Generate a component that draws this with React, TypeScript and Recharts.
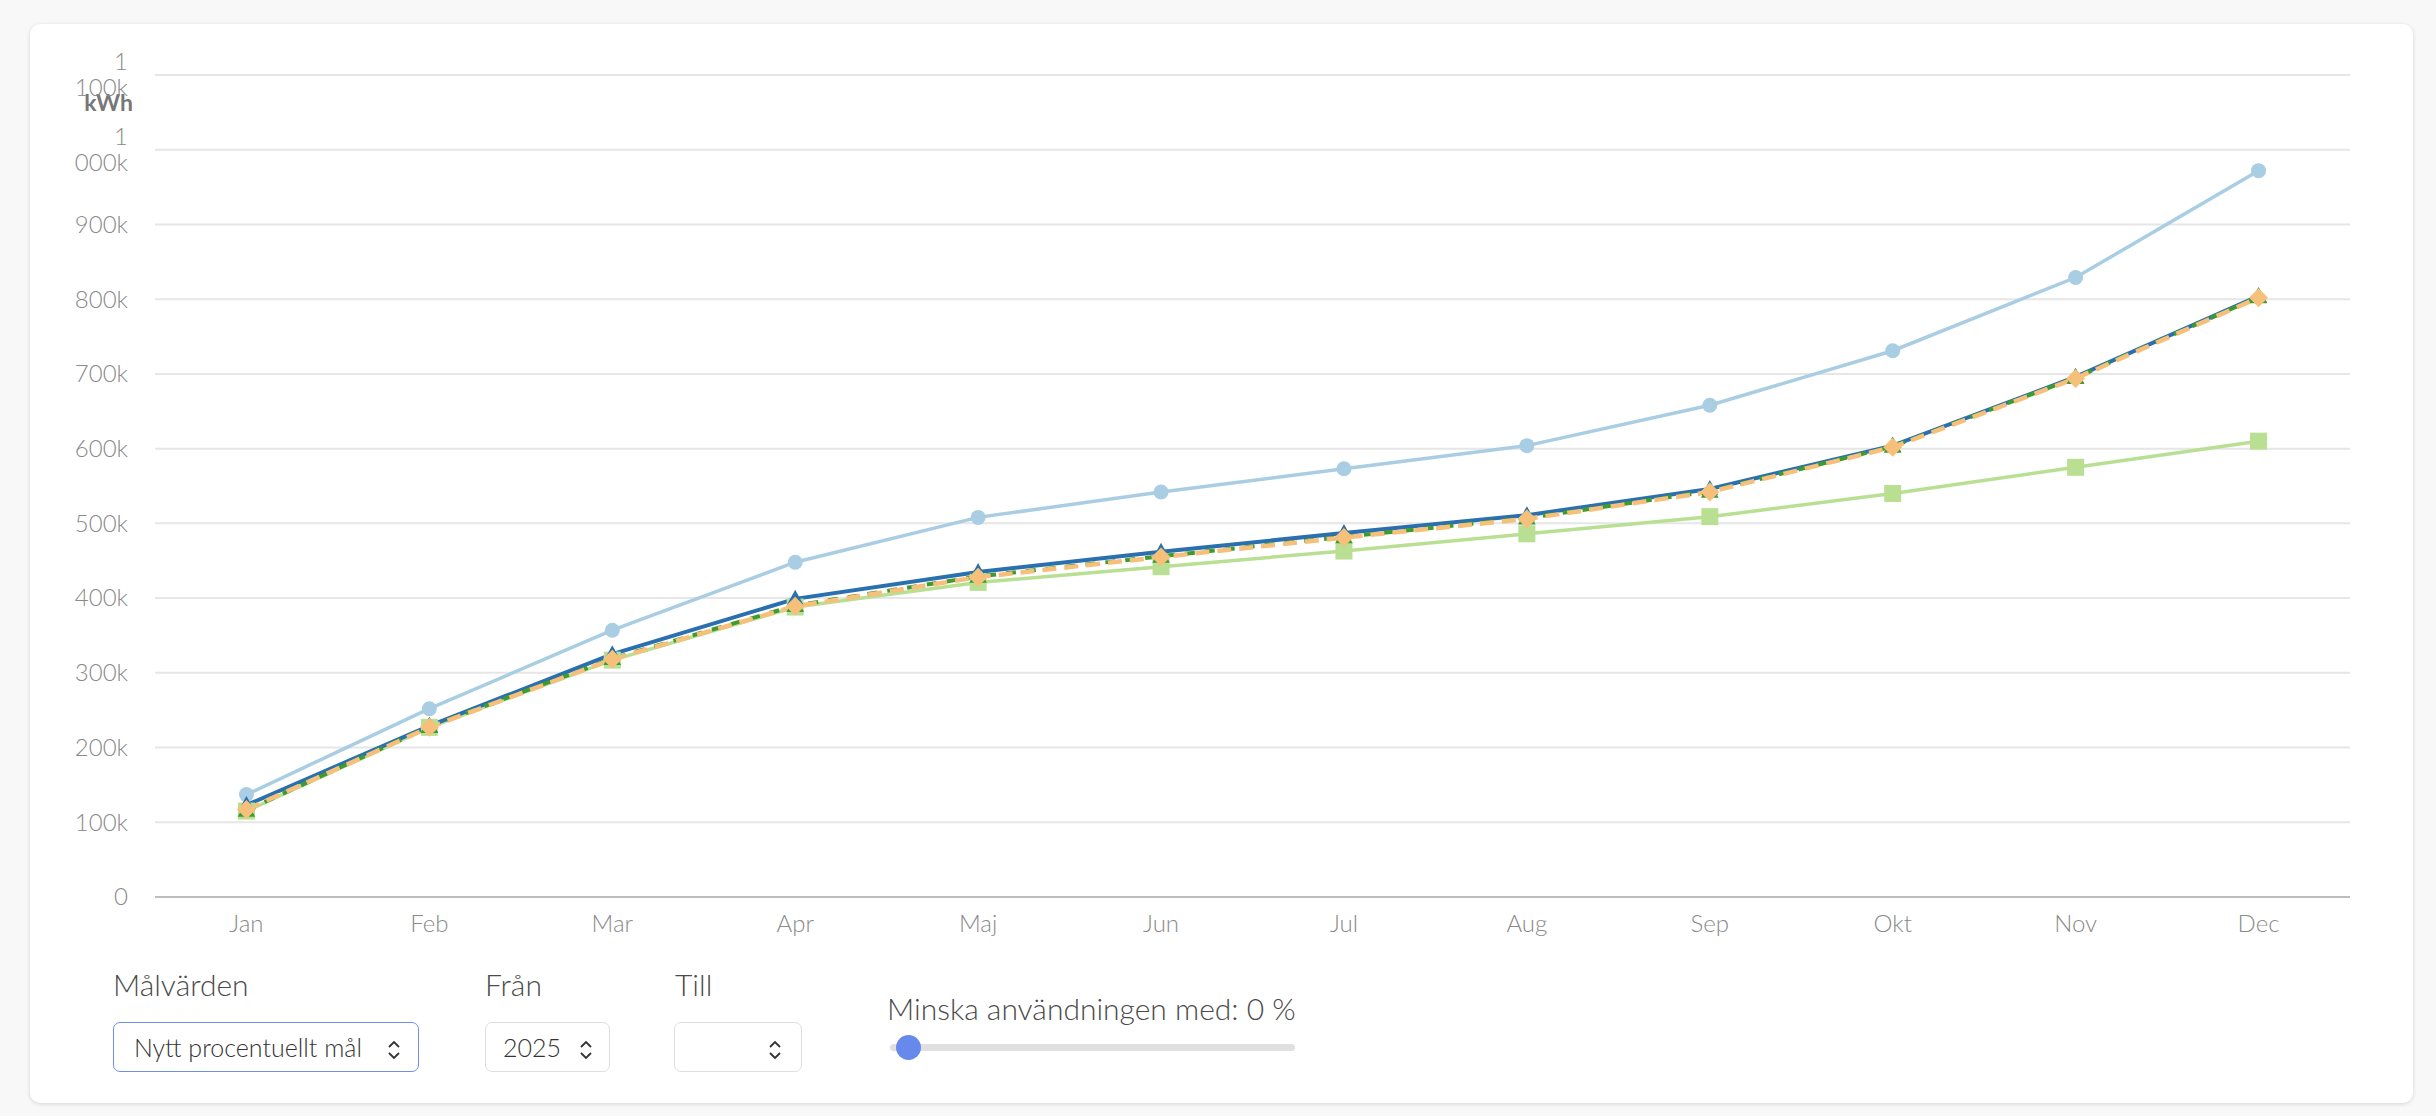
import React from 'react';
import { LineChart, Line, XAxis, YAxis, CartesianGrid } from 'recharts';

const months = ['Jan', 'Feb', 'Mar', 'Apr', 'Maj', 'Jun', 'Jul', 'Aug', 'Sep', 'Okt', 'Nov', 'Dec'];
const lightBlueSeries = [137000, 252000, 357000, 448000, 508000, 542000, 573000, 604000, 658000, 731000, 829000, 972000];
const darkBlueSeries = [123000, 229000, 325000, 399000, 435000, 462000, 487000, 511000, 546000, 604000, 696000, 804000];
const greenDashedSeries = [116000, 228000, 319000, 390000, 429000, 456000, 482000, 507000, 543000, 603000, 695000, 803000];
const orangeDashedSeries = [117000, 227000, 318000, 389000, 428000, 455000, 481000, 506000, 542000, 602000, 694000, 802000];
const lightGreenSeries = [115000, 227000, 317000, 388000, 421000, 442000, 463000, 486000, 509000, 540000, 575000, 610000];

const yTicks = [0, 100000, 200000, 300000, 400000, 500000, 600000, 700000, 800000, 900000, 1000000, 1100000];
const yTickLabels = ['0', '100k', '200k', '300k', '400k', '500k', '600k', '700k', '800k', '900k', '1 000k', '1 100k'];

const data = months.map((m, i) => ({
  month: m,
  a: lightBlueSeries[i],
  b: darkBlueSeries[i],
  d: greenDashedSeries[i],
  c: orangeDashedSeries[i],
  e: lightGreenSeries[i],
}));

const FONT = "'Lato', 'Open Sans', 'Noto Sans', sans-serif";

const YTick = (props: any) => {
  const { x, y, payload } = props;
  const idx = yTicks.indexOf(payload.value);
  const label = idx >= 0 ? yTickLabels[idx] : String(payload.value);
  const lines = label.split(' ');
  const lh = 26;
  return (
    <text x={x} y={y} textAnchor="end" fill="#8a8a8a" fontSize={24} fontFamily={FONT} fontWeight={300}>
      {lines.map((l, i) => (
        <tspan key={i} x={x} y={y + (i - (lines.length - 1) / 2) * lh} dy="0.35em">
          {l}
        </tspan>
      ))}
    </text>
  );
};

const triangle = (color: string, size: number) => (p: any) => {
  const { cx, cy, index } = p;
  if (cx == null || cy == null) return <g key={index} />;
  const h = size;
  const pts = `${cx},${cy - h * 0.6} ${cx - h * 0.55},${cy + h * 0.4} ${cx + h * 0.55},${cy + h * 0.4}`;
  return <polygon key={index} points={pts} fill={color} />;
};
const diamond = (color: string, size: number) => (p: any) => {
  const { cx, cy, index } = p;
  if (cx == null || cy == null) return <g key={index} />;
  const s = size / 2;
  const pts = `${cx},${cy - s} ${cx + s},${cy} ${cx},${cy + s} ${cx - s},${cy}`;
  return <polygon key={index} points={pts} fill={color} />;
};
const square = (color: string, size: number) => (p: any) => {
  const { cx, cy, index } = p;
  if (cx == null || cy == null) return <g key={index} />;
  return <rect key={index} x={cx - size / 2} y={cy - size / 2} width={size} height={size} fill={color} />;
};

const KwhLabel = (props: any) => {
  const { viewBox } = props;
  return (
    <text
      x={viewBox.x + viewBox.width - 22}
      y={viewBox.y + 36}
      textAnchor="end"
      fill="#777"
      fontSize={23}
      fontWeight={700}
      fontFamily={FONT}
    >
      kWh
    </text>
  );
};

const Chevrons = () => (
  <svg width="14" height="22" viewBox="0 0 14 22">
    <polyline points="2,8 7,3 12,8" fill="none" stroke="#333" strokeWidth="1.8" />
    <polyline points="2,14 7,19 12,14" fill="none" stroke="#333" strokeWidth="1.8" />
  </svg>
);

const labelStyle: React.CSSProperties = {
  position: 'absolute',
  fontFamily: FONT,
  fontWeight: 300,
  fontSize: 30,
  color: '#4a4a4a',
  whiteSpace: 'nowrap',
};

const boxStyle = (left: number, width: number, border: string): React.CSSProperties => ({
  position: 'absolute',
  left,
  top: 1022,
  width,
  height: 50,
  boxSizing: 'border-box',
  border: `1.5px solid ${border}`,
  borderRadius: 7,
  background: '#fff',
  display: 'flex',
  alignItems: 'center',
  fontFamily: FONT,
  fontWeight: 300,
  fontSize: 25,
  color: '#333',
});

export default function App() {
  return (
    <div style={{ position: 'fixed', left: 0, top: 0, width: 2436, height: 1116, background: '#f8f8f8', overflow: 'hidden' }}>
      <div
        style={{
          position: 'absolute',
          left: 30,
          top: 24,
          width: 2383,
          height: 1079,
          background: '#fff',
          borderRadius: 10,
          boxShadow: '0 1px 4px rgba(0,0,0,0.14)',
        }}
      />
      <div style={{ position: 'absolute', left: 0, top: 0 }}>
        <LineChart width={2436} height={960} data={data} margin={{ top: 75, right: 86, bottom: 3, left: 25 }}>
          <CartesianGrid vertical={false} stroke="#e6e6e6" strokeWidth={2} />
          <XAxis
            dataKey="month"
            scale="band"
            tickLine={false}
            axisLine={{ stroke: '#bdbdbd', strokeWidth: 2 }}
            tickMargin={12}
            height={60}
            tick={{ fill: '#8a8a8a', fontSize: 24, fontFamily: FONT, fontWeight: 300 }}
          />
          <YAxis
            domain={[0, 1100000]}
            ticks={yTicks}
            interval={0}
            width={130}
            tickLine={false}
            axisLine={false}
            tickMargin={21}
            tick={<YTick />}
            label={<KwhLabel />}
          />
          <Line
            type="linear"
            dataKey="a"
            stroke="#a9cde3"
            strokeWidth={3.5}
            dot={{ r: 7.5, fill: '#a9cde3', stroke: '#a9cde3', strokeWidth: 0 }}
            activeDot={false}
            isAnimationActive={false}
          />
          <Line
            type="linear"
            dataKey="e"
            stroke="#b9df93"
            strokeWidth={3.5}
            dot={square('#b9df93', 17)}
            activeDot={false}
            isAnimationActive={false}
          />
          <Line
            type="linear"
            dataKey="b"
            stroke="#2a6fae"
            strokeWidth={4}
            dot={triangle('#2a6fae', 15)}
            activeDot={false}
            isAnimationActive={false}
          />
          <Line
            type="linear"
            dataKey="d"
            stroke="#3f9a2f"
            strokeWidth={4}
            strokeDasharray="10 10"
            dot={triangle('#3f9a2f', 16)}
            activeDot={false}
            isAnimationActive={false}
          />
          <Line
            type="linear"
            dataKey="c"
            stroke="#f6c07a"
            strokeWidth={4.5}
            strokeDasharray="14 8"
            dot={diamond('#f6c07a', 19)}
            activeDot={false}
            isAnimationActive={false}
          />
        </LineChart>
      </div>

      <div style={{ ...labelStyle, left: 113, top: 966 }}>Målvärden</div>
      <div style={{ ...labelStyle, left: 485, top: 966 }}>Från</div>
      <div style={{ ...labelStyle, left: 675, top: 966 }}>Till</div>

      <div style={{ ...boxStyle(113, 306, '#6f8ff0') }}>
        <span style={{ marginLeft: 20 }}>Nytt procentuellt mål</span>
        <span style={{ position: 'absolute', left: 273, top: 13 }}>
          <Chevrons />
        </span>
      </div>
      <div style={{ ...boxStyle(485, 125, '#dedede') }}>
        <span style={{ marginLeft: 17 }}>2025</span>
        <span style={{ position: 'absolute', left: 93, top: 13 }}>
          <Chevrons />
        </span>
      </div>
      <div style={{ ...boxStyle(674, 128, '#dedede') }}>
        <span style={{ position: 'absolute', left: 93, top: 13 }}>
          <Chevrons />
        </span>
      </div>

      <div style={{ ...labelStyle, left: 887, top: 990 }}>Minska användningen med: 0 %</div>
      <div
        style={{
          position: 'absolute',
          left: 890,
          top: 1044,
          width: 405,
          height: 7,
          borderRadius: 4,
          background: '#e0e0e0',
        }}
      />
      <div
        style={{
          position: 'absolute',
          left: 908 - 12.5,
          top: 1047.5 - 12.5,
          width: 25,
          height: 25,
          borderRadius: '50%',
          background: '#6689eb',
        }}
      />
    </div>
  );
}
